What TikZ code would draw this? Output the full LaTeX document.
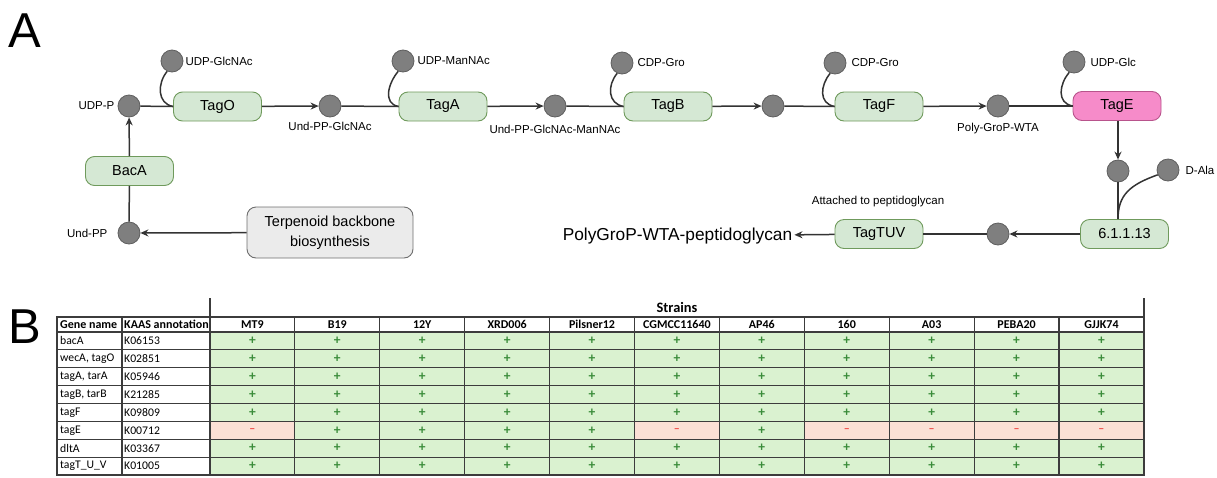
\documentclass[tikz,border=0pt]{standalone}
\usepackage{fontspec}
\setmainfont{Liberation Sans}
\newfontfamily\tabfont{Carlito}
\usetikzlibrary{arrows.meta}
\definecolor{boxgreen}{HTML}{D5E8D4}
\definecolor{boxgreenline}{HTML}{6F9A5C}
\definecolor{tagepink}{HTML}{F68BC9}
\definecolor{tageline}{HTML}{B8548C}
\definecolor{circfill}{HTML}{7F7F7F}
\definecolor{circline}{HTML}{5E5E5E}
\definecolor{terpfill}{HTML}{EBEBEB}
\definecolor{terpline}{HTML}{6E6E6E}
\definecolor{cellgreen}{HTML}{DAF2D0}
\definecolor{cellpink}{HTML}{FBE0D5}
\definecolor{plusgreen}{HTML}{3A8C3A}
\definecolor{minusred}{HTML}{F0504A}
\definecolor{gridcol}{HTML}{3C3C3C}
\begin{document}
\begin{tikzpicture}[x=1pt,y=-1pt,
  enzyme/.style={draw=boxgreenline, fill=boxgreen, rounded corners=9pt, minimum width=88pt, minimum height=29pt, inner sep=0pt, line width=0.9pt, font=\fontsize{14.5}{17}\selectfont},
  met/.style={circle, draw=circline, fill=circfill, minimum size=22pt, inner sep=0pt, line width=0.8pt},
  lbl/.style={font=\fontsize{11.5}{13}\selectfont, inner sep=0pt},
  flow/.style={draw=black!80, line width=1.5pt},
  arr/.style={flow, -{Stealth[length=8pt,width=7pt]}},
  bigletter/.style={font=\fontsize{49}{49}\selectfont, inner sep=0pt, anchor=base west},
  gridline/.style={draw=gridcol, line width=1.1pt},
  thead/.style={font=\tabfont\bfseries\fontsize{12}{14}\selectfont, inner sep=0pt},
  tcell/.style={font=\tabfont\fontsize{11.7}{14}\selectfont, inner sep=0pt, anchor=west},
  pluscell/.style={font=\tabfont\bfseries\fontsize{13.5}{14}\selectfont, text=plusgreen, inner sep=0pt},
  minuscell/.style={font=\tabfont\bfseries\fontsize{12}{14}\selectfont, text=minusred, inner sep=0pt}
]
\useasboundingbox (0,0) rectangle (1217,477);

% panel letters
\node[bigletter] (letA) at (8,47) {A};
\node[bigletter] (letB) at (8,343) {B};

% ---------- pathway ----------
\node[met] (udpp) at (129,106) {};
\node[met] (udpglcnac) at (172,61) {};
\node[enzyme] (tago) at (217.5,106.5) {TagO};
\node[met] (m1) at (330,106) {};
\node[met] (udpmannac) at (403,61) {};
\node[enzyme] (taga) at (443,106.5) {TagA};
\node[met] (m2) at (555,106) {};
\node[met] (cdpgroa) at (622,63) {};
\node[enzyme] (tagb) at (668,106.5) {TagB};
\node[met] (m3) at (773,106) {};
\node[met] (cdpgrob) at (835,63) {};
\node[enzyme] (tagf) at (879,106.5) {TagF};
\node[met] (m4) at (998,106) {};
\node[met] (udpglc) at (1074,62) {};
\node[enzyme, fill=tagepink, draw=tageline] (tage) at (1117,106) {TagE};
\node[met] (m5) at (1118,171) {};
\node[met] (dala) at (1168,170) {};
\node[enzyme] (e61) at (1124.5,234) {6.1.1.13};
\node[met] (m6) at (998,234) {};
\node[enzyme] (tagtuv) at (879,234) {TagTUV};
\node[font=\fontsize{17.3}{20}\selectfont, inner sep=2pt] (pg) at (677.5,236) {PolyGroP-WTA-peptidoglycan};
\node[enzyme] (baca) at (129.5,171) {BacA};
\node[met] (undpp) at (129,233) {};
\node[draw=terpline, fill=terpfill, rounded corners=9pt, minimum width=166pt, minimum height=51pt, inner sep=0pt, line width=0.9pt, align=center, font=\fontsize{14.5}{20}\selectfont] (terp) at (330,232.5) {Terpenoid backbone\\biosynthesis};

% labels
\node[lbl, anchor=east] (lupdp) at ([xshift=-3pt]udpp.west) {UDP-P};
\node[lbl, anchor=east] (lundpp) at ([xshift=-10pt]undpp.west) {Und-PP};
\node[lbl, anchor=west] (lglcnac) at ([xshift=2pt]udpglcnac.east) {UDP-GlcNAc};
\node[lbl] (lm1) at (330,126.5) {Und-PP-GlcNAc};
\node[lbl, anchor=west] (lmannac) at ([xshift=3pt]udpmannac.east) {UDP-ManNAc};
\node[lbl] (lm2) at (555,129) {Und-PP-GlcNAc-ManNAc};
\node[lbl, anchor=west] (lcdpa) at ([xshift=4pt]cdpgroa.east) {CDP-Gro};
\node[lbl, anchor=west] (lcdpb) at ([xshift=5pt]cdpgrob.east) {CDP-Gro};
\node[lbl] (lm4) at (998,129) {Poly-GroP-WTA};
\node[lbl, anchor=west] (lglc) at ([xshift=5pt]udpglc.east) {UDP-Glc};
\node[lbl, anchor=west] (ldala) at ([xshift=6pt]dala.east) {D-Ala};
\node[lbl] (latt) at (878,202) {Attached to peptidoglycan};

% main flow
\draw[flow] (udpp) -- (tago.west);
\draw[arr] (tago) -- (m1);
\draw[flow] (m1) -- (taga.west);
\draw[arr] (taga) -- (m2);
\draw[flow] (m2) -- (tagb.west);
\draw[arr] (tagb) -- (m3);
\draw[flow] (m3) -- (tagf.west);
\draw[arr] (tagf) -- (m4);
\draw[flow] (m4) -- (tage.west);
\draw[arr] (tage.south -| m5) -- (m5);
\draw[flow] (m5) -- (m5.south |- e61.north);
\draw[arr] (e61) -- (m6);
\draw[flow] (m6) -- (tagtuv);
\draw[arr] (tagtuv) -- (pg);
\draw[arr] (terp) -- (undpp);
\draw[flow] (undpp) -- (baca);
\draw[arr] (baca) -- (udpp);

% co-substrate curves
\draw[flow] (udpglcnac.245) .. controls +(-10,12) and +(-16,-3) .. (tago.west);
\draw[flow] (udpmannac.245) .. controls +(-10,12) and +(-16,-3) .. (taga.west);
\draw[flow] (cdpgroa.245) .. controls +(-10,12) and +(-16,-3) .. (tagb.west);
\draw[flow] (cdpgrob.245) .. controls +(-10,12) and +(-16,-3) .. (tagf.west);
\draw[flow] (udpglc.245) .. controls +(-10,12) and +(-16,-3) .. (tage.west);
\draw[flow] (dala.205) .. controls +(-28,10) and +(0,-24) .. (m5.south |- e61.north);

% ---------- table ----------
\fill[white] (57,317) rectangle (1144,475);
\fill[cellgreen] (210,332) rectangle (1144,475);
\foreach \i in {0,5,7,8,9,10} {
  \fill[cellpink] ({210+84.9*\i},421.375) rectangle ({210+84.9*(\i+1)},439.25);
}
\draw[gridline] (57,317) rectangle (1144,475);
\foreach \j in {0,...,7} {
  \draw[gridline] (57,{332+17.875*\j}) -- (1144,{332+17.875*\j});
}
\draw[gridline] (122,317) -- (122,475);
\draw[gridline] (210,298) -- (210,475);
\draw[gridline] (1144,298) -- (1144,317);
\foreach \i in {1,...,10} {
  \draw[gridline] ({210+84.9*\i},317) -- ({210+84.9*\i},475);
}
\node[font=\tabfont\bfseries\fontsize{14.4}{16}\selectfont, inner sep=0pt] (strains) at (677,307) {Strains};
\node[thead, anchor=west] (hgene) at (60,324.5) {Gene name};
\node[thead, anchor=west] (hkaas) at (124,324.5) {KAAS annotation};
\foreach \s [count=\i from 0] in {MT9,B19,12Y,XRD006,Pilsner12,CGMCC11640,AP46,160,A03,PEBA20,GJJK74} {
  \node[thead] (h\i) at ({210+84.9*\i+42.45},324.5) {\s};
}
\foreach \g/\k [count=\j from 0] in {bacA/K06153,{wecA, tagO}/K02851,{tagA, tarA}/K05946,{tagB, tarB}/K21285,tagF/K09809,tagE/K00712,dltA/K03367,tagT\_U\_V/K01005} {
  \node[tcell] (g\j) at (60,{332+17.875*(\j+0.5)}) {\g};
  \node[tcell] (k\j) at (124,{332+17.875*(\j+0.5)}) {\k};
}
\foreach \j in {0,1,2,3,4,6,7} {
  \foreach \i in {0,...,10} {
    \node[pluscell] (c\j-\i) at ({210+84.9*\i+42.45},{332+17.875*(\j+0.5)}) {+};
  }
}
\foreach \v [count=\i from 0] in {m,p,p,p,p,m,p,m,m,m,m} {
  \if\v p
    \node[pluscell] (c5-\i) at ({210+84.9*\i+42.45},{332+17.875*5.5}) {+};
  \else
    \node[minuscell] (c5-\i) at ({210+84.9*\i+42.45},{332+17.875*5.5}) {–};
  \fi
}
\end{tikzpicture}
\end{document}
